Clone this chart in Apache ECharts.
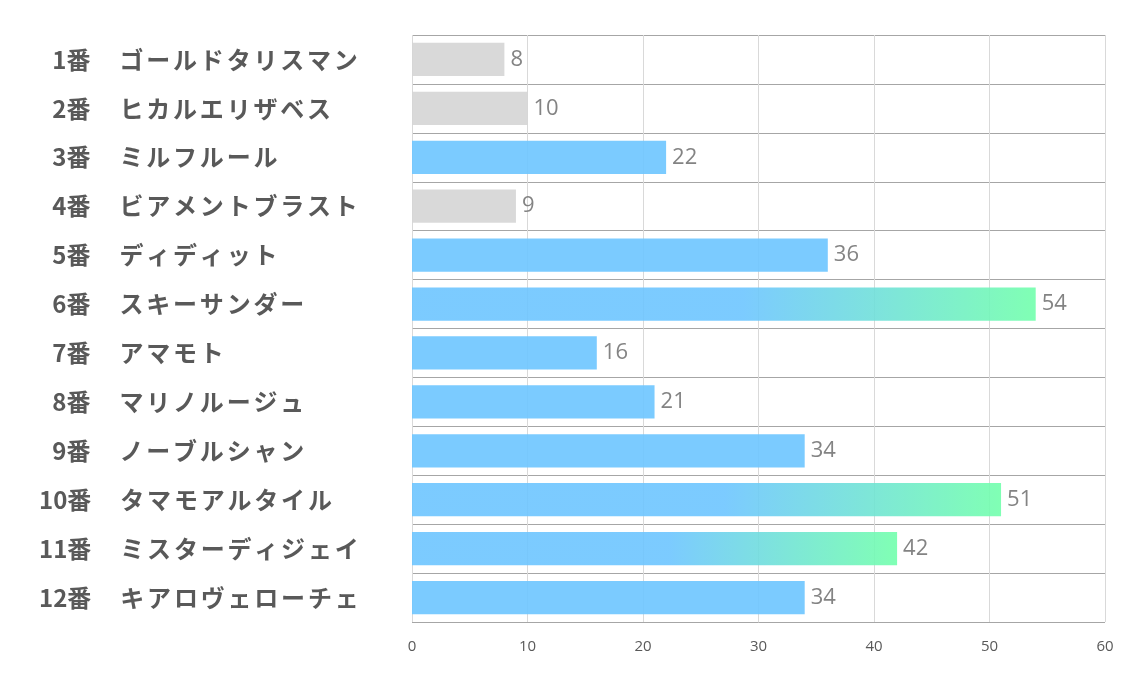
<!DOCTYPE html>
<html>
<head>
<meta charset="utf-8">
<script src="https://cdn.jsdelivr.net/npm/echarts@6/dist/echarts.min.js"></script>
<style>
  html, body { margin: 0; padding: 0; background: #fff; }
  #main { width: 1134px; height: 680px; }
</style>
</head>
<body>
<div id="main"></div>
<script>
var horseNo = ['1番', '2番', '3番', '4番', '5番', '6番', '7番', '8番', '9番', '10番', '11番', '12番'];
var horseNames = ['ゴールドタリスマン', 'ヒカルエリザベス', 'ミルフルール', 'ビアメントブラスト', 'ディディット', 'スキーサンダー',
                  'アマモト', 'マリノルージュ', 'ノーブルシャン', 'タマモアルタイル', 'ミスターディジェイ', 'キアロヴェローチェ'];
var scores = [8, 10, 22, 9, 36, 54, 16, 21, 34, 51, 42, 34];
// 0 = grey, 1 = blue, 2 = blue->green
var rank = [0, 0, 1, 0, 1, 2, 1, 1, 1, 2, 2, 1];

var grey = '#d5d5d5';
var blue = '#6dc5ff';
var green = '#72ffac';

function barColor(r) {
    if (r === 0) return grey;
    if (r === 1) return blue;
    return {
        type: 'linear', x: 0, y: 0, x2: 1, y2: 0,
        colorStops: [
            { offset: 0, color: blue },
            { offset: 0.53, color: blue },
            { offset: 1, color: green }
        ]
    };
}

var cats = horseNo.map(function (n, i) { return n + '|' + horseNames[i]; });
var barData = scores.map(function (v, i) {
    return { value: v, itemStyle: { color: barColor(rank[i]) } };
});

var labelFont = { fontSize: 24, fontWeight: 'bold', color: '#595959', fontFamily: 'Noto Sans CJK JP' };

var myChart = echarts.init(document.getElementById('main'));
var option = {
    backgroundColor: '#fff',
    animation: false,
    grid: { left: 412, right: 29, top: 35, bottom: 58, containLabel: false },
    xAxis: {
        type: 'value',
        min: 0,
        max: 60,
        interval: 10,
        axisLine: { show: false },
        axisTick: { show: false },
        axisLabel: { color: '#595959', fontSize: 15, margin: 17, fontFamily: 'Open Sans' },
        splitLine: { show: true, lineStyle: { color: '#d9d9d9', width: 1 } }
    },
    yAxis: {
        type: 'category',
        inverse: true,
        data: cats,
        axisLine: { show: false },
        axisTick: { show: false },
        splitLine: { show: true, lineStyle: { color: '#a6a6a6', width: 1 } },
        axisLabel: {
            align: 'left',
            margin: 373,
            formatter: function (v) {
                var p = v.split('|');
                // single-digit numbers get a digit-wide gap so they line up on the right
                var pre = p[0].length < 3 ? '{p| }' : '';
                // each kana in its own slot so the name gets the wide spacing of the original
                var name = p[1].split('').map(function (c) { return '{c|' + c + '}'; }).join('');
                return pre + '{n|' + p[0] + '}{g| }' + name;
            },
            rich: {
                p: Object.assign({ width: 13.3 }, labelFont),
                n: Object.assign({}, labelFont),
                g: Object.assign({ width: 29 }, labelFont),
                c: Object.assign({ width: 26.8 }, labelFont)
            }
        }
    },
    series: [{
        type: 'bar',
        data: barData,
        barWidth: '68%',
        itemStyle: { opacity: 0.9 },
        label: {
            show: true,
            position: 'right',
            distance: 6,
            color: '#757575',
            fontSize: 22,
            fontFamily: 'Open Sans'
        }
    }]
};
myChart.setOption(option);
</script>
</body>
</html>
